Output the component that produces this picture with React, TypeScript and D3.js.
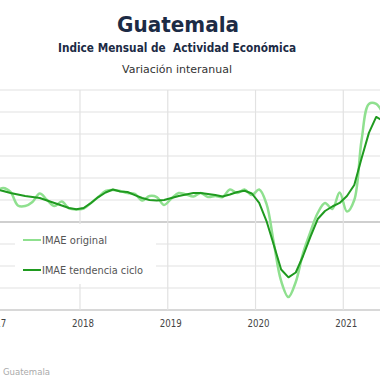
import React from "react";
import * as d3 from "d3";

const startYear = 2017;
const years = [2017, 2018, 2019, 2020, 2021];
const yTicks = [-8, -6, -4, -2, 0, 2, 4, 6, 8, 10, 12];
const seriesNames = ["IMAE original", "IMAE tendencia ciclo"];
const original = [
  2.82, 3.09, 2.73, 1.5, 1.45, 1.82, 2.59, 2.0, 1.45, 1.86, 1.23, 1.14,
  1.23, 1.73, 2.27, 2.82, 2.91, 2.82, 2.64, 2.55, 1.95, 2.36, 2.27, 1.55,
  2.14, 2.64, 2.5, 2.32, 2.64, 2.27, 2.36, 2.27, 2.95, 2.64, 2.95, 2.45,
  2.95, 1.64, -1.91, -5.36, -6.82, -5.45, -2.82, -0.91, 0.82, 1.73, 1.18, 2.68,
  0.95, 2.0, 7.45, 10.73, 10.73, 9.73,
];
const tendencia = [
  2.95, 2.82, 2.64, 2.5, 2.36, 2.27, 2.18, 1.95, 1.73, 1.5, 1.27, 1.15,
  1.27, 1.73, 2.27, 2.68, 2.95, 2.77, 2.73, 2.45, 2.18, 2.0, 1.95, 2.0,
  2.18, 2.36, 2.5, 2.64, 2.64, 2.55, 2.45, 2.32, 2.5, 2.73, 2.84, 2.59,
  1.73, 0.09, -2.09, -4.32, -5.03, -4.59, -3.09, -1.36, 0.27, 1.0, 1.41, 1.73,
  2.36, 3.36, 5.8, 8.1, 9.55, 9.18,
];

export default function App() {
  const W = 380;
  const H = 380;
  const top = 90;
  const bottom = 310;
  const x = d3.scaleLinear().domain([2018, 2021]).range([80, 343.3]);
  const y = d3.scaleLinear().domain([-8, 12]).range([bottom, top]);
  const t = (i: number) => startYear + (i + 0.5) / 12;

  const lineOrig = d3
    .line<number>()
    .x((_, i) => x(t(i)))
    .y((d) => y(d))
    .curve(d3.curveCatmullRom.alpha(0.5));
  const lineTrend = d3
    .line<number>()
    .x((_, i) => x(t(i)))
    .y((d) => y(d))
    .curve(d3.curveLinear);

  const navy = "#1c2b45";
  const light = "#8fe08f";
  const dark = "#1f9a1f";

  return (
    <svg
      width={W}
      height={H}
      style={{ position: "absolute", left: 0, top: 0, background: "#fff" }}
    >
      <defs>
        <clipPath id="plot">
          <rect x={0} y={top - 2} width={W} height={bottom - top + 4} />
        </clipPath>
      </defs>
      <text
        x={178}
        y={31.5}
        textAnchor="middle"
        fontFamily="'DejaVu Sans', sans-serif"
        fontWeight="bold"
        fontSize={22}
        fill={navy}
        textLength={122}
        lengthAdjust="spacingAndGlyphs"
      >
        Guatemala
      </text>
      <text
        x={177}
        y={52}
        textAnchor="middle"
        fontFamily="'DejaVu Sans', sans-serif"
        fontWeight="bold"
        fontSize={11.5}
        fill={navy}
        textLength={238}
        lengthAdjust="spacingAndGlyphs"
        style={{ whiteSpace: "pre" }}
      >
        {"Indice Mensual de  Actividad Económica"}
      </text>
      <text
        x={177}
        y={72.5}
        textAnchor="middle"
        fontFamily="'DejaVu Sans', sans-serif"
        fontSize={11}
        fill="#333"
        textLength={110}
        lengthAdjust="spacingAndGlyphs"
      >
        Variación interanual
      </text>

      {yTicks.map((v) => (
        <line
          key={"h" + v}
          x1={0}
          x2={W}
          y1={y(v)}
          y2={y(v)}
          stroke={v === 0 ? "#a0a0a0" : v === -8 ? "#d8d8d8" : "#e2e2e2"}
          strokeWidth={v === -8 ? 2 : 1.2}
        />
      ))}
      {years.map((yr) => (
        <line
          key={"v" + yr}
          x1={x(yr)}
          x2={x(yr)}
          y1={top}
          y2={bottom}
          stroke="#e2e2e2"
          strokeWidth={1.2}
        />
      ))}
      {years.map((yr) => (
        <text
          key={"l" + yr}
          x={x(yr) + 3}
          y={326.5}
          textAnchor="middle"
          fontFamily="'DejaVu Sans', sans-serif"
          fontSize={10.5}
          fill="#444"
          textLength={22}
          lengthAdjust="spacingAndGlyphs"
        >
          {yr}
        </text>
      ))}

      <rect x={15} y={224} width={141} height={60} fill="#fff" />

      <g clipPath="url(#plot)">
        <path
          d={lineOrig(original) || ""}
          fill="none"
          stroke={light}
          strokeWidth={2.5}
          strokeLinejoin="round"
        />
        <path
          d={lineTrend(tendencia) || ""}
          fill="none"
          stroke={dark}
          strokeWidth={2}
          strokeLinejoin="round"
        />
      </g>

      {seriesNames.map((name, k) => (
        <g key={name}>
          <line
            x1={23}
            x2={41}
            y1={240 + k * 30}
            y2={240 + k * 30}
            stroke={k === 0 ? light : dark}
            strokeWidth={2}
          />
          <text
            x={42}
            y={244 + k * 30}
            fontFamily="'DejaVu Sans', sans-serif"
            fontSize={11}
            fill="#555"
            textLength={k === 0 ? 65 : 101}
            lengthAdjust="spacingAndGlyphs"
          >
            {name}
          </text>
        </g>
      ))}

      <text
        x={3}
        y={375}
        fontFamily="'DejaVu Sans', sans-serif"
        fontSize={9.5}
        fill="#aaa"
        textLength={47}
        lengthAdjust="spacingAndGlyphs"
      >
        Guatemala
      </text>
    </svg>
  );
}
